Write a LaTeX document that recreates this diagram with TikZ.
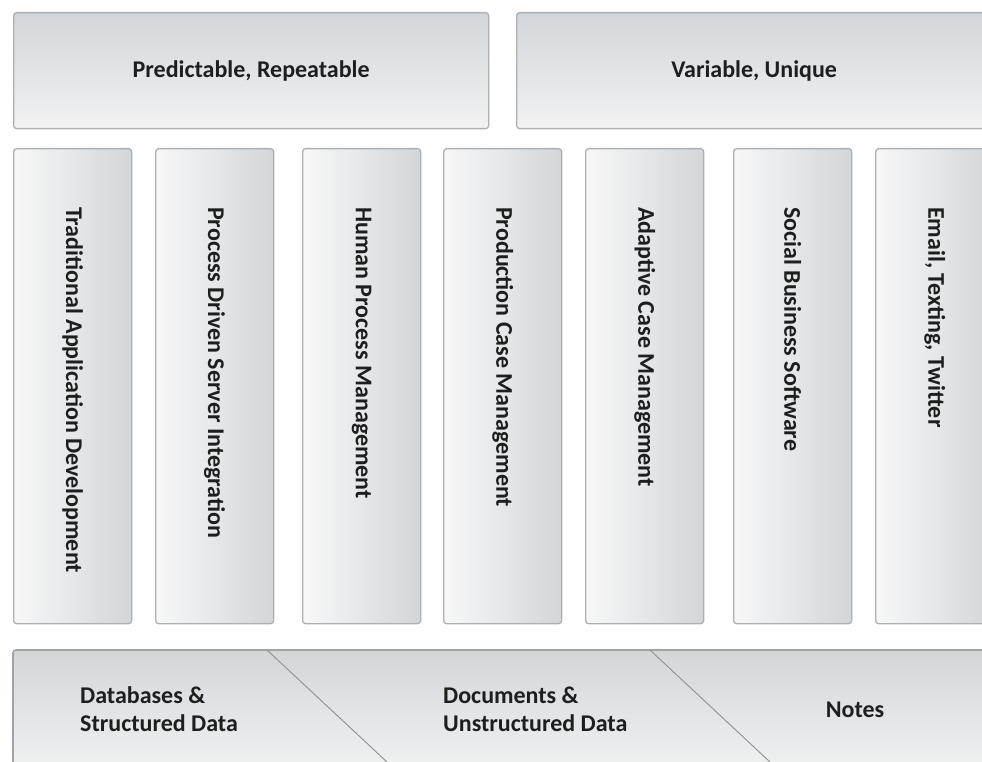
\documentclass[tikz,border=0pt]{standalone}
\usepackage{fontspec}
\setmainfont{Carlito}
\definecolor{boxtop}{HTML}{D2D6DA}
\definecolor{boxbot}{HTML}{F2F2F2}
\definecolor{colL}{HTML}{F8F8F8}
\definecolor{colR}{HTML}{D2D6D9}
\definecolor{edge}{HTML}{ADB0B3}
\definecolor{bandedge}{HTML}{A0A4A8}
\definecolor{divider}{HTML}{8C9094}
\definecolor{txt}{HTML}{1E1E1E}
\begin{document}
\begin{tikzpicture}[x=1pt,y=-1pt,
  panel/.style={draw=edge, line width=1.3pt, rounded corners=3pt},
  headbox/.style={panel, top color=boxtop, bottom color=boxbot, anchor=north west,
    inner sep=0pt, minimum height=116pt, label font},
  colbox/.style={panel, left color=colL, right color=colR, anchor=north west,
    minimum width=118pt, minimum height=475pt},
  label font/.style={font=\bfseries\fontsize{24}{28}\selectfont, text=txt},
  vlabel/.style={label font, rotate=-90, anchor=west, inner sep=0pt},
  bandlabel/.style={label font, inner sep=0pt}]
\useasboundingbox (0,0) rectangle (982,762);
\clip (0,0) rectangle (982,762);

% header row
\node[headbox, minimum width=475pt] (pred) at (13,12) {Predictable, Repeatable};
\node[headbox, minimum width=479pt] (var) at (516,12) {\hspace*{-4pt}Variable, Unique};

% vertical columns with their rotated captions
\foreach \n/\x/\t in {c1/13/Traditional Application Development,
                      c2/155/Process Driven Server Integration,
                      c3/302/Human Process Management,
                      c4/443/Production Case Management,
                      c5/585/Adaptive Case Management,
                      c6/733/Social Business Software,
                      c7/875/{Email, Texting, Twitter}} {
  \node[colbox] (\n) at (\x,148) {};
  \path (\n.north) ++(0,59) coordinate (\n-top);
  \node[vlabel] (\n-label) at (\n-top) {\t};
}

% data band along the bottom
\coordinate (bl) at (13,775);
\coordinate (tl) at (13,650);
\coordinate (tr) at (995,650);
\coordinate (br) at (995,775);
\path[top color=boxtop, bottom color=boxbot] (bl) -- (tl) -- (tr) -- (br) -- cycle;
\draw[bandedge, line width=1.6pt, rounded corners=3pt] (bl) -- (tl) -- (tr);
\coordinate (d1a) at (267,650);
\coordinate (d1b) at (387,762);
\coordinate (d2a) at (650,650);
\coordinate (d2b) at (770,762);
\draw[divider, line width=0.9pt] (d1a) -- (d1b);
\draw[divider, line width=0.9pt] (d2a) -- (d2b);

\node[bandlabel, align=left, anchor=west] (db) at (80,709) {Databases \&\\Structured Data};
\node[bandlabel, align=left, anchor=west] (docs) at (443,709) {Documents \&\\Unstructured Data};
\node[bandlabel] (notes) at (855,710) {Notes};
\end{tikzpicture}
\end{document}
